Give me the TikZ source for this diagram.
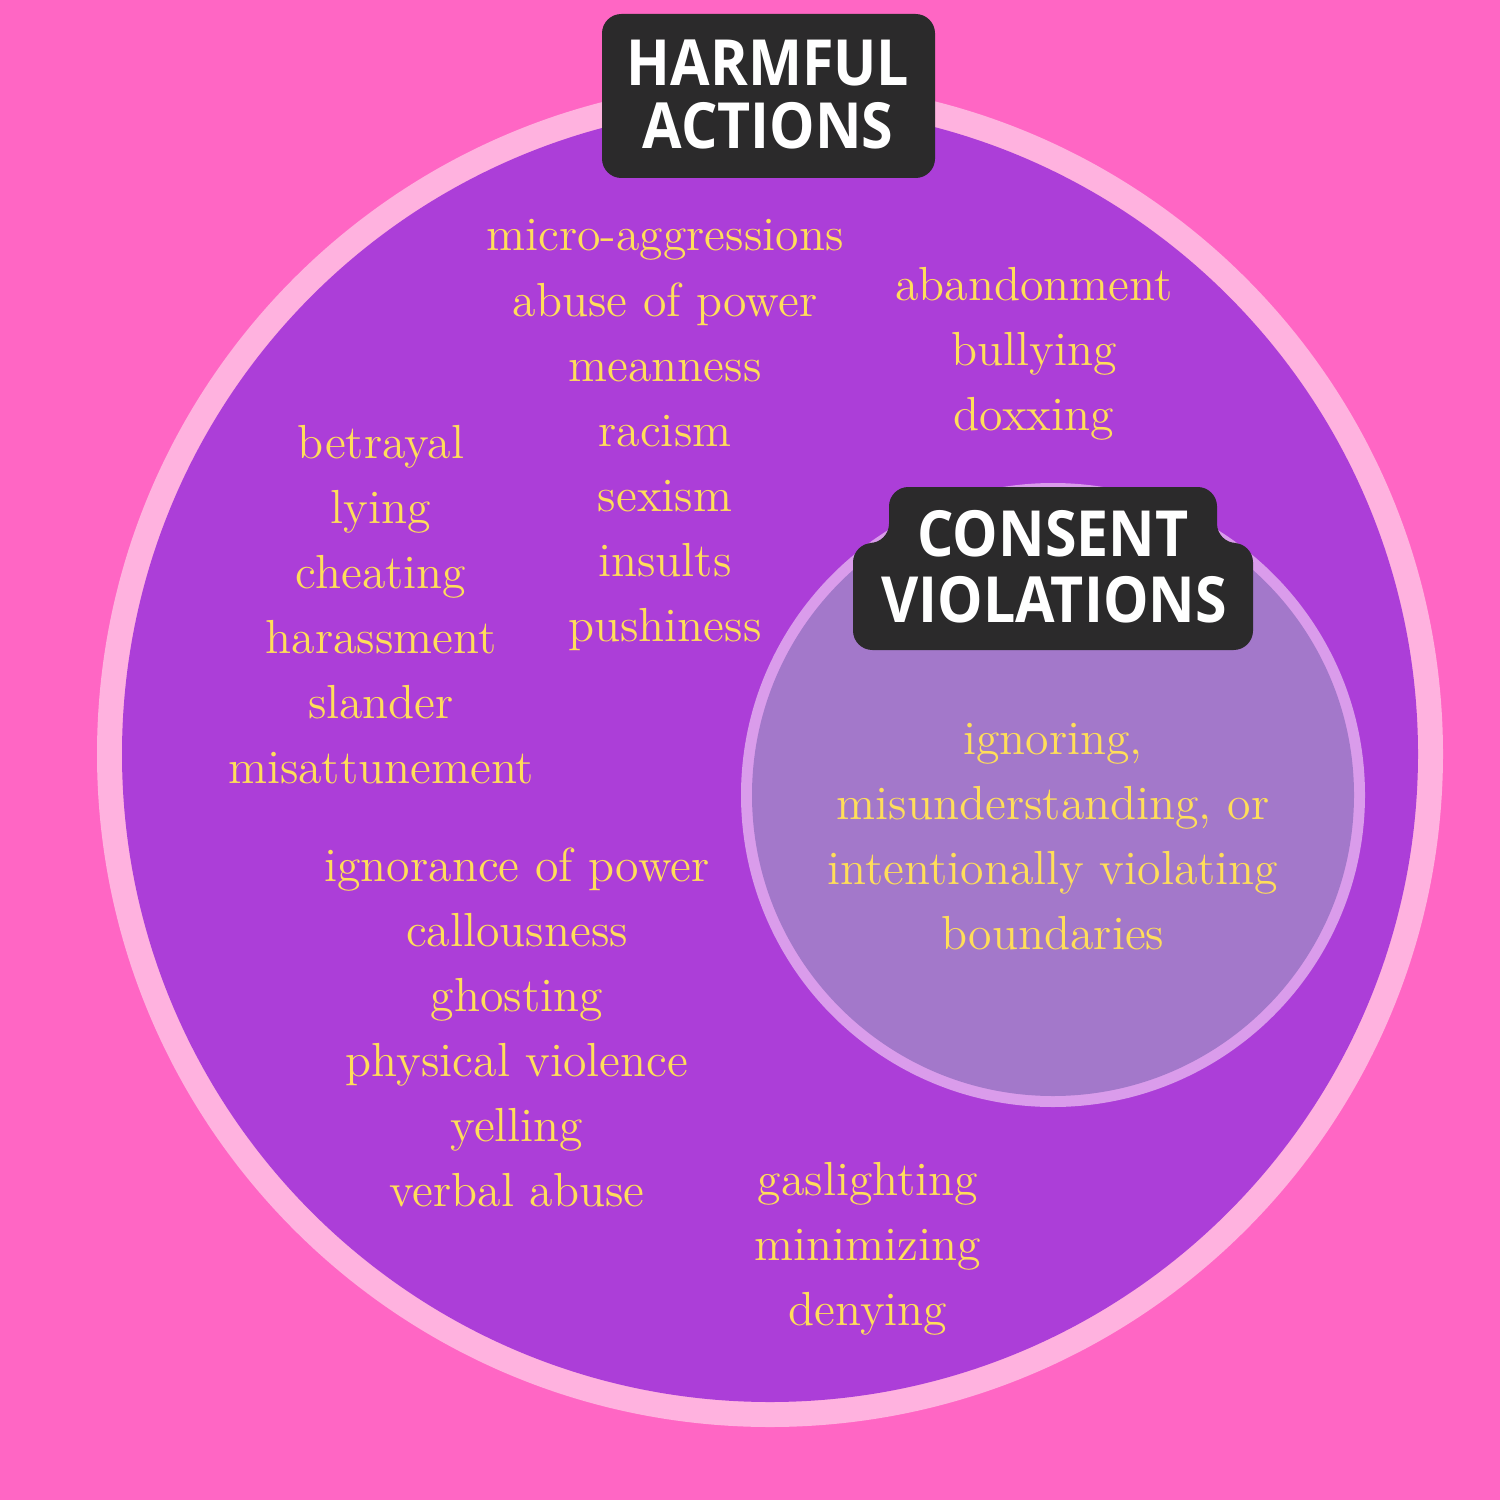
\documentclass[tikz,border=0pt]{standalone}
\usepackage{fontspec}
\usepackage{tikz}
\newfontfamily\titlefont[FakeStretch=0.9]{Open Sans}
\definecolor{hPink}{HTML}{FF66C4}
\definecolor{hRing}{HTML}{FFB2DF}
\definecolor{hPurple}{HTML}{AC3ED8}
\definecolor{cViolet}{HTML}{A378CA}
\definecolor{cRing}{HTML}{DA9CEB}
\definecolor{hDark}{HTML}{2B2A2B}
\definecolor{hYellow}{HTML}{FFDE59}

\begin{document}
\begin{tikzpicture}[
    x=0.01cm, y=-0.01cm,
    word/.style={anchor=base, inner sep=0pt, text=hYellow, font=\fontsize{13.6}{16}\selectfont},
    title/.style={anchor=base, inner sep=0pt, text=white, font=\titlefont\bfseries\fontsize{18.1}{20}\selectfont},
    tag/.style={fill=hDark, rounded corners=5.5pt}
]
    % canvas
    \fill[hPink] (0,0) rectangle (1500,1500);
    \useasboundingbox (0,0) rectangle (1500,1500);

    % the two circles
    \coordinate (harmC) at (770,754);
    \coordinate (consC) at (1053,795);
    \fill[hRing] (harmC) circle[radius=673];
    \fill[hPurple] (harmC) circle[radius=648];
    \fill[cRing] (consC) circle[radius=312];
    \fill[cViolet] (consC) circle[radius=301];

    % title tags
    \fill[tag] (602,14) rectangle (935,178);
    \node[title] (harm1) at (768,86) {HARMFUL};
    \node[title] (harm2) at (768,149) {ACTIONS};

    \fill[tag] (889,487) -- (1217,487) -- (1217,543) -- (1253,543) -- (1253,650)
        -- (853,650) -- (853,543) -- (889,543) -- cycle;
    \node[title] (cons1) at (1053,556) {CONSENT};
    \node[title] (cons2) at (1054,622) {VIOLATIONS};

    % lists of words
    \foreach \w [count=\i] in {micro-aggressions, abuse of power, meanness, racism, sexism, insults, pushiness}
        \node[word] (top\i) at (665,251+65*\i-65) {\w};
    \foreach \w [count=\i] in {abandonment, bullying, doxxing}
        \node[word] (right\i) at (1034,300+65*\i-65) {\w};
    \foreach \w [count=\i] in {betrayal, lying, cheating, harassment, slander, misattunement}
        \node[word] (left\i) at (381,458+65*\i-65) {\w};
    \foreach \w [count=\i] in {ignorance of power, callousness, ghosting, physical violence, yelling, verbal abuse}
        \node[word] (low\i) at (517,881+65*\i-65) {\w};
    \foreach \w [count=\i] in {gaslighting, minimizing, denying}
        \node[word] (bottom\i) at (868,1195+65*\i-65) {\w};
    \foreach \w [count=\i] in {{ignoring,}, {misunderstanding, or}, intentionally violating, boundaries}
        \node[word] (inner\i) at (1053,754+65*\i-65) {\w};
\end{tikzpicture}
\end{document}
